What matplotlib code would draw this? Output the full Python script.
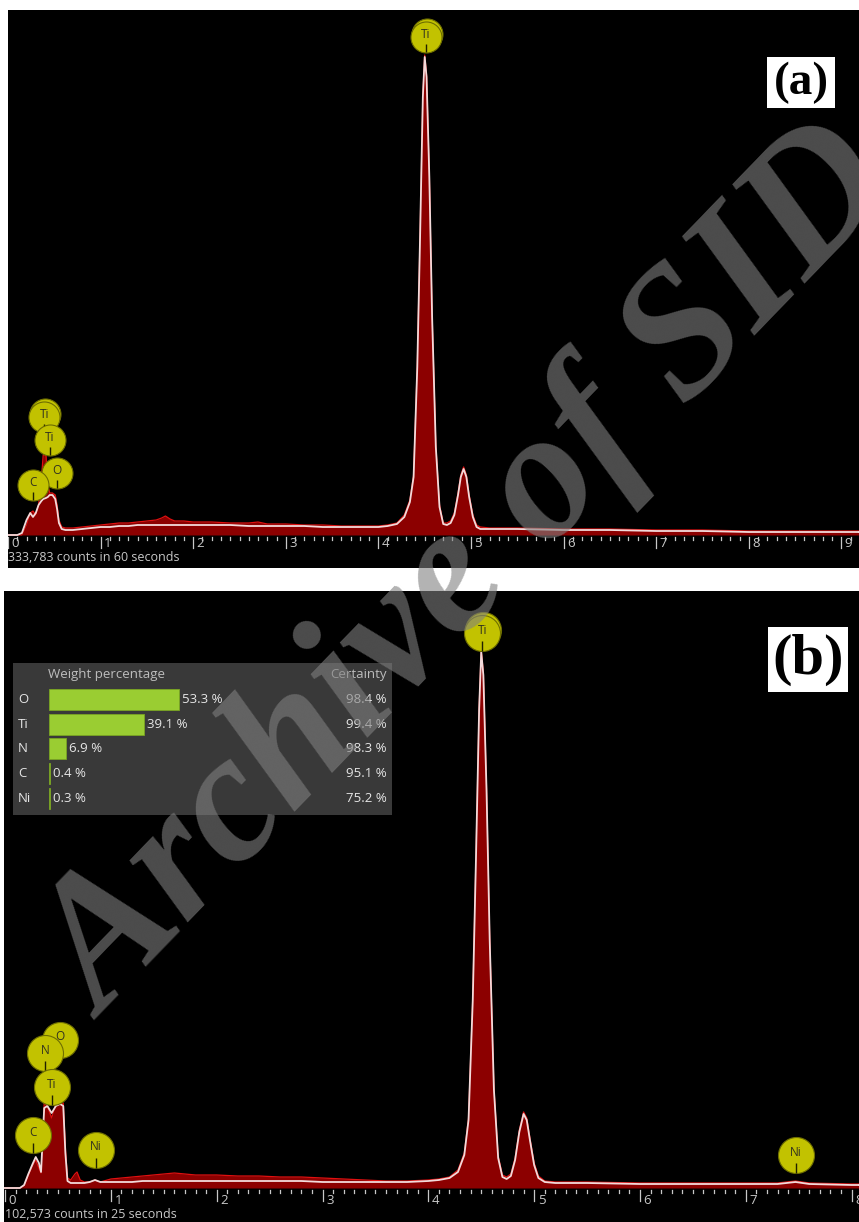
import numpy as np
import matplotlib.pyplot as plt
from matplotlib.patches import Rectangle
from matplotlib.transforms import offset_copy

# ---- spectrum (a): energy in keV, heights in counts (arbitrary units)
energy_a = [0.00, 0.10, 0.15, 0.20, 0.24, 0.27, 0.30, 0.33, 0.36, 0.38, 0.41, 0.43, 0.45, 0.48,
            0.51, 0.53, 0.55, 0.58, 0.62, 0.70, 0.80, 0.90, 1.00, 1.10, 1.20, 1.30, 1.40, 1.50,
            1.60, 1.66, 1.70, 1.75, 1.80, 1.90, 2.00, 2.20, 2.40, 2.60, 2.70, 2.80, 3.00, 3.20,
            3.40, 3.60, 3.80, 4.00, 4.10, 4.20, 4.28, 4.34, 4.38, 4.42, 4.45, 4.48, 4.50, 4.52,
            4.55, 4.58, 4.62, 4.66, 4.70, 4.74, 4.78, 4.82, 4.86, 4.89, 4.92, 4.95, 4.98, 5.02,
            5.06, 5.10, 5.20, 5.50, 6.00, 6.50, 7.00, 7.50, 8.00, 8.50, 9.00, 9.20]
counts_a = [0, 0, 0, 10, 22, 24, 20, 30, 55, 80, 80, 50, 42, 42,
            40, 30, 15, 8, 7, 7, 8, 9, 10, 11, 12, 12, 13, 14,
            15, 17, 19, 16, 14, 14, 13, 13, 12, 12, 13, 11, 11, 10,
            10, 9, 9, 9, 10, 12, 20, 35, 60, 170, 300, 440, 480, 460,
            360, 220, 90, 30, 12, 12, 14, 22, 42, 60, 68, 60, 40, 20,
            10, 8, 7, 7, 6, 6, 5, 5, 4, 4, 4, 4]
fit_a = [0, 0, 2, 15, 22, 18, 22, 30, 34, 36, 37, 38, 40, 40,
         36, 26, 12, 6, 5, 5, 6, 7, 8, 8, 9, 9, 10, 10,
         10, 10, 10, 10, 10, 10, 10, 10, 10, 9, 9, 9, 9, 9,
         8, 8, 8, 8, 9, 11, 18, 33, 58, 168, 298, 438, 478, 458,
         358, 218, 88, 28, 11, 10, 12, 20, 40, 58, 66, 58, 38, 18,
         8, 6, 6, 6, 5, 5, 4, 4, 3, 3, 3, 3]
# labels listed back to front
labels_a = ['Ti', 'Ti', 'Ti', 'Ti', 'Ti', 'O', 'C']
label_e_a = [4.52, 4.51, 0.40, 0.39, 0.45, 0.53, 0.27]
label_y_a = [501, 498, 121, 118, 95, 62, 50]

# ---- spectrum (b)
energy_b = [0.00, 0.14, 0.18, 0.22, 0.26, 0.29, 0.32, 0.34, 0.37, 0.40, 0.44, 0.48, 0.52, 0.55,
            0.57, 0.59, 0.62, 0.66, 0.68, 0.71, 0.75, 0.80, 0.85, 0.90, 1.00, 1.10, 1.20, 1.30,
            1.40, 1.50, 1.60, 1.70, 1.80, 2.00, 2.20, 2.40, 2.60, 2.80, 3.00, 3.20, 3.40, 3.60,
            3.80, 4.00, 4.10, 4.20, 4.28, 4.34, 4.38, 4.42, 4.45, 4.48, 4.50, 4.52, 4.55, 4.58,
            4.62, 4.66, 4.70, 4.74, 4.78, 4.82, 4.86, 4.90, 4.93, 4.96, 5.00, 5.04, 5.10, 5.20,
            5.50, 6.00, 6.50, 7.00, 7.30, 7.47, 7.60, 8.00, 8.10]
counts_b = [0, 0, 2, 12, 22, 28, 20, 15, 85, 82, 70, 84, 86, 85,
            40, 10, 8, 14, 16, 8, 6, 6, 8, 6, 9, 10, 11, 12,
            13, 14, 15, 14, 13, 13, 12, 12, 11, 11, 10, 9, 8, 7,
            7, 8, 9, 11, 18, 35, 70, 190, 330, 480, 538, 515, 400, 250,
            100, 32, 13, 11, 14, 30, 58, 76, 70, 50, 25, 12, 7, 6,
            6, 5, 5, 5, 5, 7, 5, 4, 4]
fit_b = [0, 0, 3, 14, 24, 31, 25, 16, 80, 82, 75, 82, 84, 82,
         35, 7, 5, 5, 5, 5, 5, 6, 8, 6, 6, 6, 6, 7,
         7, 7, 7, 7, 7, 7, 7, 7, 7, 7, 6, 6, 6, 6,
         6, 7, 8, 10, 16, 33, 68, 188, 328, 478, 536, 513, 398, 248,
         98, 30, 11, 9, 12, 28, 56, 74, 68, 48, 23, 10, 6, 5,
         5, 4, 4, 4, 4, 6, 4, 3, 3]
labels_b = ['Ti', 'Ti', 'O', 'N', 'Ti', 'C', 'Ni', 'Ni']
label_e_b = [4.52, 4.51, 0.52, 0.38, 0.44, 0.26, 0.86, 7.47]
label_y_b = [558, 555, 148, 135, 101, 53, 38, 33]

# ---- quantification table in (b)
elements = ['O', 'Ti', 'N', 'C', 'Ni']
weight_pct = [53.3, 39.1, 6.9, 0.4, 0.3]
certainty = [98.4, 99.4, 98.3, 95.1, 75.2]

W, H = 859, 1222
TXT = '#c8c8c8'
FONT = 'Open Sans'

fig = plt.figure(figsize=(W / 100, H / 100), dpi=100, facecolor='white')


def px_axes(x0, y0, x1, y1):
    return fig.add_axes([x0 / W, 1 - y1 / H, (x1 - x0) / W, (y1 - y0) / H])


def spectrum(ax, e, c, f, xlim, ylim, xmax_tick, info, lab_y, info_y):
    ax.set_facecolor('black')
    ax.set_xlim(*xlim)
    ax.set_ylim(*ylim)
    for s in ax.spines.values():
        s.set_visible(False)
    ax.set_xticks([])
    ax.set_yticks([])
    ax.fill_between(e, c, 0, color='#8c0000', lw=0, zorder=2)
    ax.plot(e, c, color='#e01010', lw=0.9, zorder=3)
    ax.plot([xlim[0]] + list(e) + [xlim[1]], [0] + list(f) + [f[-1]], color='#f2dada', lw=1.3, zorder=4)
    # axis ticks
    for t in np.arange(0, xmax_tick + 0.001, 0.1):
        major = abs(t - round(t)) < 1e-6
        ax.plot([t, t], [-2, -13 if major else -5], color=TXT, lw=0.9, zorder=3)
        if major:
            ax.text(t + 0.035, lab_y, '%d' % round(t), color=TXT, fontsize=9.5,
                    family=FONT, ha='left', va='center')
    ax.text(xlim[0] + 0.005, info_y, info, color=TXT, fontsize=9, family=FONT,
            ha='left', va='center')


def label(ax, el, x, y, d_px, z):
    s = (d_px * 0.72) ** 2
    ax.scatter([x], [y], s=s, color='#c2c200', edgecolors='#6e6e00', linewidths=0.8, zorder=z)
    ax.text(x, y, el, transform=offset_copy(ax.transData, fig=fig, y=3, units='dots'),
            fontsize=8.5, family=FONT, color='#303020', ha='center', va='center', zorder=z + 0.1)
    tr = offset_copy(ax.transData, fig=fig, y=-d_px * 0.36, units='dots')
    ax.plot([x], [y], marker='|', ms=d_px * 0.2, mew=1.0, color='#202000', transform=tr, zorder=z + 0.2)


# ---- panel (a)
ax_a = px_axes(8, 10, 859, 568)
spectrum(ax_a, energy_a, counts_a, fit_a, (0, 9.19), (-33, 525), 9.15,
         '333,783 counts in 60 seconds', -8, -22)
for i, (el, x, y) in enumerate(zip(labels_a, label_e_a, label_y_a)):
    label(ax_a, el, x, y, 31, 6 + i)

# ---- panel (b)
ax_b = px_axes(4, 591, 859, 1222)
spectrum(ax_b, energy_b, counts_b, fit_b, (-0.01, 8.07), (-34, 597), 8.05,
         '102,573 counts in 25 seconds', -13, -27)
for i, (el, x, y) in enumerate(zip(labels_b, label_e_b, label_y_b)):
    label(ax_b, el, x, y, 36, 6 + i)

# ---- table
tb = px_axes(13, 663, 392, 815)
tb.set_facecolor('#3d3d3d')
tb.patch.set_alpha(0.95)
for s in tb.spines.values():
    s.set_visible(False)
tb.set_xticks([])
tb.set_yticks([])
tb.set_xlim(0, 379)
tb.set_ylim(152, 0)
tb.text(35, 12, 'Weight percentage', color='#bdbdbd', fontsize=9.5, family=FONT, va='center')
tb.text(374, 12, 'Certainty', color='#bdbdbd', fontsize=9.5, family=FONT, va='center', ha='right')
rows_y = [37, 62, 86, 111, 136]
bar_scale = 2.44
tb.barh(rows_y, [max(w * bar_scale, 1.2) for w in weight_pct], height=21, left=36,
        color='#9acd32', edgecolor='#7aa522', linewidth=0.6)
for yy, el, w, c in zip(rows_y, elements, weight_pct, certainty):
    tb.text(5, yy, el, color='#e6e6e6', fontsize=9.5, family=FONT, va='center')
    tb.text(36 + max(w * bar_scale, 1.2) + 3, yy, '%.1f %%' % w, color='#e6e6e6',
            fontsize=9.5, family=FONT, va='center')
    tb.text(374, yy, '%.1f %%' % c, color='#e6e6e6', fontsize=9.5, family=FONT,
            va='center', ha='right')

# ---- panel tags
for tag, (x0, y0, x1, y1), fs in [('(a)', (767, 57, 835, 108), 34), ('(b)', (768, 627, 848, 692), 42)]:
    fig.add_artist(Rectangle((x0 / W, 1 - y1 / H), (x1 - x0) / W, (y1 - y0) / H,
                             transform=fig.transFigure, facecolor='white', edgecolor='none', zorder=5))
    fig.text((x0 + x1) / 2 / W, 1 - (y0 + y1) / 2 / H, tag, fontsize=fs, family='Liberation Serif',
             weight='bold', ha='center', va='center', zorder=6)

# ---- watermark
fig.text(470 / W, 1 - 575 / H, 'Archive of SID', fontsize=133, family='Liberation Serif',
         weight='bold', style='italic', color='#808080', alpha=0.6, rotation=46,
         ha='center', va='center', zorder=4)

fig.savefig('out.png', dpi=100, facecolor='white')
